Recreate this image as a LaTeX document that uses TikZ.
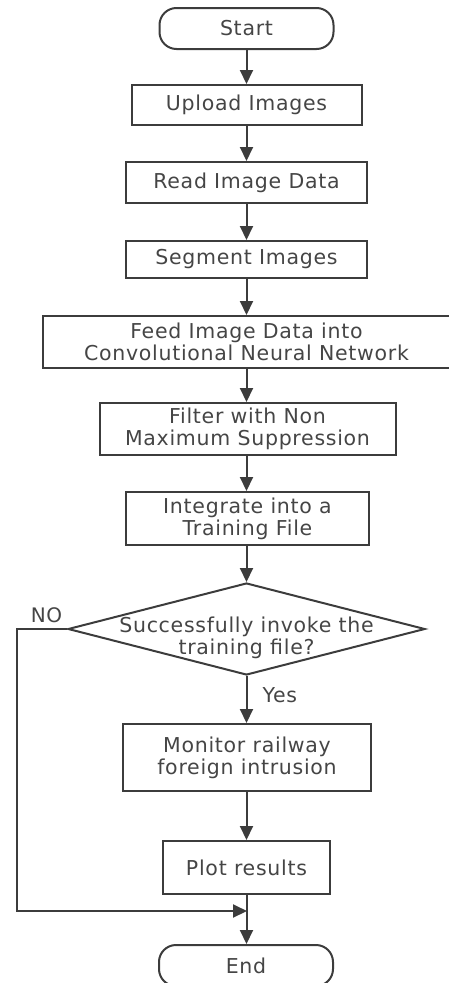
\documentclass[tikz,border=0pt]{standalone}
\usepackage{fontspec}
\setmainfont{DejaVu Sans}[LetterSpace=3.5]
\usetikzlibrary{arrows.meta,shapes.geometric}
\definecolor{ink}{HTML}{3C3C3C}
\definecolor{txt}{HTML}{454545}
\begin{document}
\begin{tikzpicture}[x=1pt,y=-1pt,
  every node/.style={font=\fontsize{20.5}{22}\selectfont, text=txt, align=center},
  box/.style={draw=ink, line width=2pt, inner sep=0pt, rectangle},
  term/.style={box, rounded corners=17pt},
  arr/.style={draw=ink, line width=2pt, -{Triangle[length=14pt,width=13pt]}},
  conn/.style={draw=ink, line width=2pt}]
\useasboundingbox (0,0) rectangle (448,983);
\node[term, minimum width=174pt, minimum height=41pt] (start) at (246.5,28.5) {Start};
\node[box, minimum width=230pt, minimum height=40pt] (upload) at (246.5,105) {Upload Images};
\node[box, minimum width=241pt, minimum height=41pt] (read) at (246.5,182.5) {Read Image Data};
\node[box, minimum width=241pt, minimum height=37pt] (seg) at (246.5,259.5) {Segment Images};
\node[box, minimum width=407pt, minimum height=52pt] (feed) at (246.5,342) {Feed Image Data into\\Convolutional Neural Network};
\node[box, minimum width=296pt, minimum height=52pt] (filter) at (247.5,429) {Filter with Non\\Maximum Suppression};
\node[box, minimum width=243pt, minimum height=53pt] (integ) at (247.5,518.5) {Integrate into a\\Training File};
\node[diamond, draw=ink, line width=2pt, inner sep=0pt, minimum width=357pt, minimum height=92pt] (dec) at (246.5,629) {};
\node (dectext) at (246.5,638) {Successfully invoke the\\training file?};
\node[box, minimum width=248pt, minimum height=67pt] (mon) at (247,757.5) {Monitor railway\\foreign intrusion};
\node[box, minimum width=167pt, minimum height=53pt] (plot) at (246.5,867.5) {Plot results};
\node[term, minimum width=174pt, minimum height=41pt] (end) at (246,965.5) {End};
\node[anchor=west] (yes) at (259,695) {Yes};
\node[font=\fontsize{20}{22}\selectfont] (no) at (46.5,615) {NO};
\coordinate (nob) at (17,911);
\coordinate (join) at (247,911);
\draw[arr] (start) -- (upload);
\draw[arr] (upload) -- (read);
\draw[arr] (read) -- (seg);
\draw[arr] (seg) -- (feed.north -| seg.south);
\draw[arr] (feed.south -| seg.south) -- (filter.north -| seg.south);
\draw[arr] (filter.south -| seg.south) -- (integ.north -| seg.south);
\draw[arr] (integ.south -| seg.south) -- (dec.north);
\draw[arr] (dec.south) -- (mon.north -| dec.south);
\draw[arr] (mon.south -| dec.south) -- (plot.north -| dec.south);
\draw[arr] (plot.south -| dec.south) -- (end.north -| dec.south);
\draw[arr] (dec.west) -| (nob) -- (join);
\end{tikzpicture}
\end{document}
